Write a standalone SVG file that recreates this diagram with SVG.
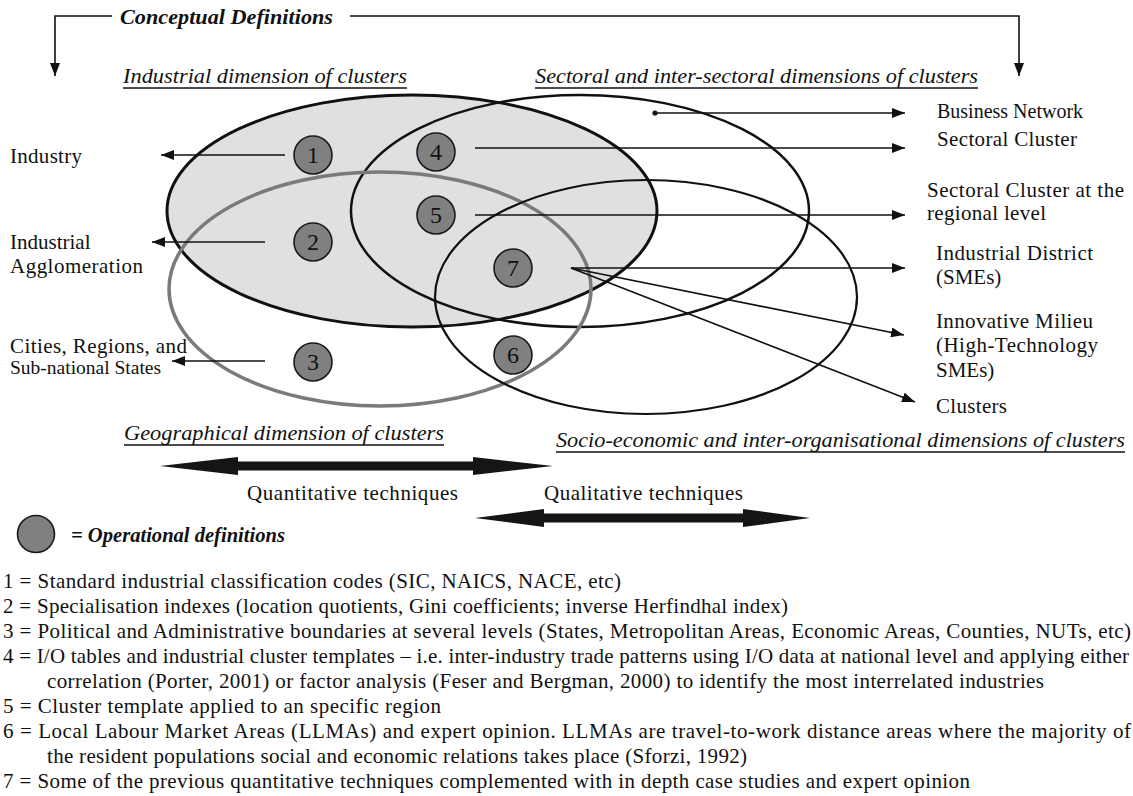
<svg xmlns="http://www.w3.org/2000/svg" width="1133" height="796" viewBox="0 0 1133 796">
<style>
text{font-family:"Liberation Serif","Times New Roman",serif;fill:#111}
.lbl{font-size:21px}
.hd{font-size:22px;font-style:italic}
.ul{stroke:#111;stroke-width:1.4}
.num{font-size:24px;text-anchor:middle}
.opc{fill:#808080;stroke:#1a1a1a;stroke-width:1.6}
.ln{fill:none;stroke:#111;stroke-width:1.6}
.foot{font-size:21px}
.big{fill:#151515}
</style>
<defs>
<marker id="ah" markerUnits="userSpaceOnUse" markerWidth="13" markerHeight="10" refX="13" refY="5" orient="auto">
<path d="M0,0 L13,5 L0,10 z" fill="#111"/>
</marker>
</defs>
<rect width="1133" height="796" fill="#fff"/>

<g id="conceptual">
<text x="120" y="24" font-size="22" font-weight="bold" font-style="italic" textLength="213" lengthAdjust="spacingAndGlyphs">Conceptual Definitions</text>
<path class="ln" d="M112,16 H55 V76" marker-end="url(#ah)"/>
<path class="ln" d="M350,16 H1019 V76" marker-end="url(#ah)"/>
</g>

<g id="ellipses">
<ellipse id="industrial" cx="412" cy="211" rx="245" ry="116" fill="#e0e0e0" stroke="#111" stroke-width="3"/>
<ellipse id="sectoral" cx="580" cy="211" rx="229" ry="116" fill="none" stroke="#111" stroke-width="2.5"/>
<ellipse id="geographical" cx="380" cy="289" rx="211" ry="117" fill="none" stroke="#7a7a7a" stroke-width="3.5"/>
<ellipse id="socio" cx="646" cy="297" rx="211" ry="117" fill="none" stroke="#111" stroke-width="2.2"/>
</g>

<g id="headings">
<text class="hd" x="123" y="83" textLength="284" lengthAdjust="spacingAndGlyphs">Industrial dimension of clusters</text>
<line class="ul" x1="123" y1="88" x2="407" y2="88"/>
<text class="hd" x="535" y="83" textLength="443" lengthAdjust="spacingAndGlyphs">Sectoral and inter-sectoral dimensions of clusters</text>
<line class="ul" x1="535" y1="88" x2="978" y2="88"/>
<text class="hd" x="124" y="440" textLength="320" lengthAdjust="spacingAndGlyphs">Geographical dimension of clusters</text>
<line class="ul" x1="124" y1="445" x2="444" y2="445"/>
<text class="hd" x="556" y="447" textLength="569" lengthAdjust="spacingAndGlyphs">Socio-economic and inter-organisational dimensions of clusters</text>
<line class="ul" x1="556" y1="452" x2="1125" y2="452"/>
</g>

<g id="connectors">
<line class="ln" x1="285" y1="155" x2="161" y2="155" marker-end="url(#ah)"/>
<line class="ln" x1="265" y1="242" x2="152" y2="242" marker-end="url(#ah)"/>
<line class="ln" x1="265" y1="361" x2="172" y2="361" marker-end="url(#ah)"/>
<circle cx="655" cy="113" r="2.6" fill="#111"/>
<line class="ln" x1="655" y1="113" x2="905" y2="113" marker-end="url(#ah)"/>
<line class="ln" x1="475" y1="148" x2="905" y2="148" marker-end="url(#ah)"/>
<line class="ln" x1="475" y1="215" x2="905" y2="215" marker-end="url(#ah)"/>
<line class="ln" x1="571" y1="268" x2="905" y2="268" marker-end="url(#ah)"/>
<line class="ln" x1="571" y1="268" x2="904" y2="335" marker-end="url(#ah)"/>
<line class="ln" x1="571" y1="268" x2="915" y2="402" marker-end="url(#ah)"/>
</g>

<g id="n1"><circle class="opc" cx="313" cy="155" r="19"/><text class="num" x="313" y="163">1</text></g>
<g id="n2"><circle class="opc" cx="313" cy="242" r="19"/><text class="num" x="313" y="250">2</text></g>
<g id="n3"><circle class="opc" cx="313" cy="362" r="19"/><text class="num" x="313" y="370">3</text></g>
<g id="n4"><circle class="opc" cx="436" cy="152" r="19"/><text class="num" x="436" y="160">4</text></g>
<g id="n5"><circle class="opc" cx="436" cy="215" r="19"/><text class="num" x="436" y="223">5</text></g>
<g id="n6"><circle class="opc" cx="513" cy="355" r="19"/><text class="num" x="513" y="363">6</text></g>
<g id="n7"><circle class="opc" cx="513" cy="268" r="19"/><text class="num" x="513" y="276">7</text></g>

<g id="left-labels">
<text class="lbl" x="10" y="163" textLength="72" lengthAdjust="spacing">Industry</text>
<text class="lbl" x="10" y="249">Industrial</text>
<text class="lbl" x="10" y="273" textLength="133" lengthAdjust="spacing">Agglomeration</text>
<text class="lbl" x="10" y="353" textLength="177" lengthAdjust="spacing">Cities, Regions, and</text>
<text x="10" y="374" font-size="19.5">Sub-national States</text>
</g>

<g id="right-labels">
<text x="937" y="118" font-size="20">Business Network</text>
<text class="lbl" x="937" y="146" textLength="140" lengthAdjust="spacing">Sectoral Cluster</text>
<text class="lbl" x="927" y="197" textLength="197" lengthAdjust="spacing">Sectoral Cluster at the</text>
<text class="lbl" x="927" y="220" textLength="119" lengthAdjust="spacing">regional level</text>
<text class="lbl" x="936" y="260" textLength="157" lengthAdjust="spacing">Industrial District</text>
<text class="lbl" x="936" y="284">(SMEs)</text>
<text class="lbl" x="936" y="328" textLength="157" lengthAdjust="spacing">Innovative Milieu</text>
<text class="lbl" x="936" y="352" textLength="162" lengthAdjust="spacing">(High-Technology</text>
<text class="lbl" x="936" y="377">SMEs)</text>
<text class="lbl" x="936" y="413" textLength="71" lengthAdjust="spacing">Clusters</text>
</g>

<g id="techniques">
<path class="big" d="M160,466 L238,457 L238,461.5 L473,461.5 L473,457 L553,466 L473,475 L473,470.5 L238,470.5 L238,475 Z"/>
<text class="lbl" x="247" y="500" textLength="211" lengthAdjust="spacing">Quantitative techniques</text>
<text class="lbl" x="544" y="500" textLength="199" lengthAdjust="spacing">Qualitative techniques</text>
<path class="big" d="M475,518 L544,509 L544,513.5 L743,513.5 L743,509 L810,518 L743,527 L743,522.5 L544,522.5 L544,527 Z"/>
</g>

<g id="legend">
<circle class="opc" cx="36" cy="534" r="18.5"/>
<text x="71" y="542" font-size="21" font-weight="bold" font-style="italic" textLength="214" lengthAdjust="spacingAndGlyphs">= Operational definitions</text>
</g>

<g id="notes">
<text class="foot" x="3" y="588" textLength="618" lengthAdjust="spacing">1 = Standard industrial classification codes (SIC, NAICS, NACE, etc)</text>
<text class="foot" x="3" y="613" textLength="785" lengthAdjust="spacing">2 = Specialisation indexes (location quotients, Gini coefficients; inverse Herfindhal index)</text>
<text class="foot" x="3" y="638" textLength="1128" lengthAdjust="spacing">3 = Political and Administrative boundaries at several levels (States, Metropolitan Areas, Economic Areas, Counties, NUTs, etc)</text>
<text class="foot" x="3" y="663" textLength="1126" lengthAdjust="spacing">4 = I/O tables and industrial cluster templates – i.e. inter-industry trade patterns using I/O data at national level and applying either</text>
<text class="foot" x="47" y="688" textLength="997" lengthAdjust="spacing">correlation (Porter, 2001) or factor analysis (Feser and Bergman, 2000) to identify the most interrelated industries</text>
<text class="foot" x="3" y="713" textLength="438" lengthAdjust="spacing">5 = Cluster template applied to an specific region</text>
<text class="foot" x="3" y="738" textLength="1128" lengthAdjust="spacing">6 = Local Labour Market Areas (LLMAs) and expert opinion. LLMAs are travel-to-work distance areas where the majority of</text>
<text class="foot" x="47" y="763" textLength="700" lengthAdjust="spacing">the resident populations social and economic relations takes place (Sforzi, 1992)</text>
<text class="foot" x="3" y="788" textLength="967" lengthAdjust="spacing">7 = Some of the previous quantitative techniques complemented with in depth case studies and expert opinion</text>
</g>
</svg>
